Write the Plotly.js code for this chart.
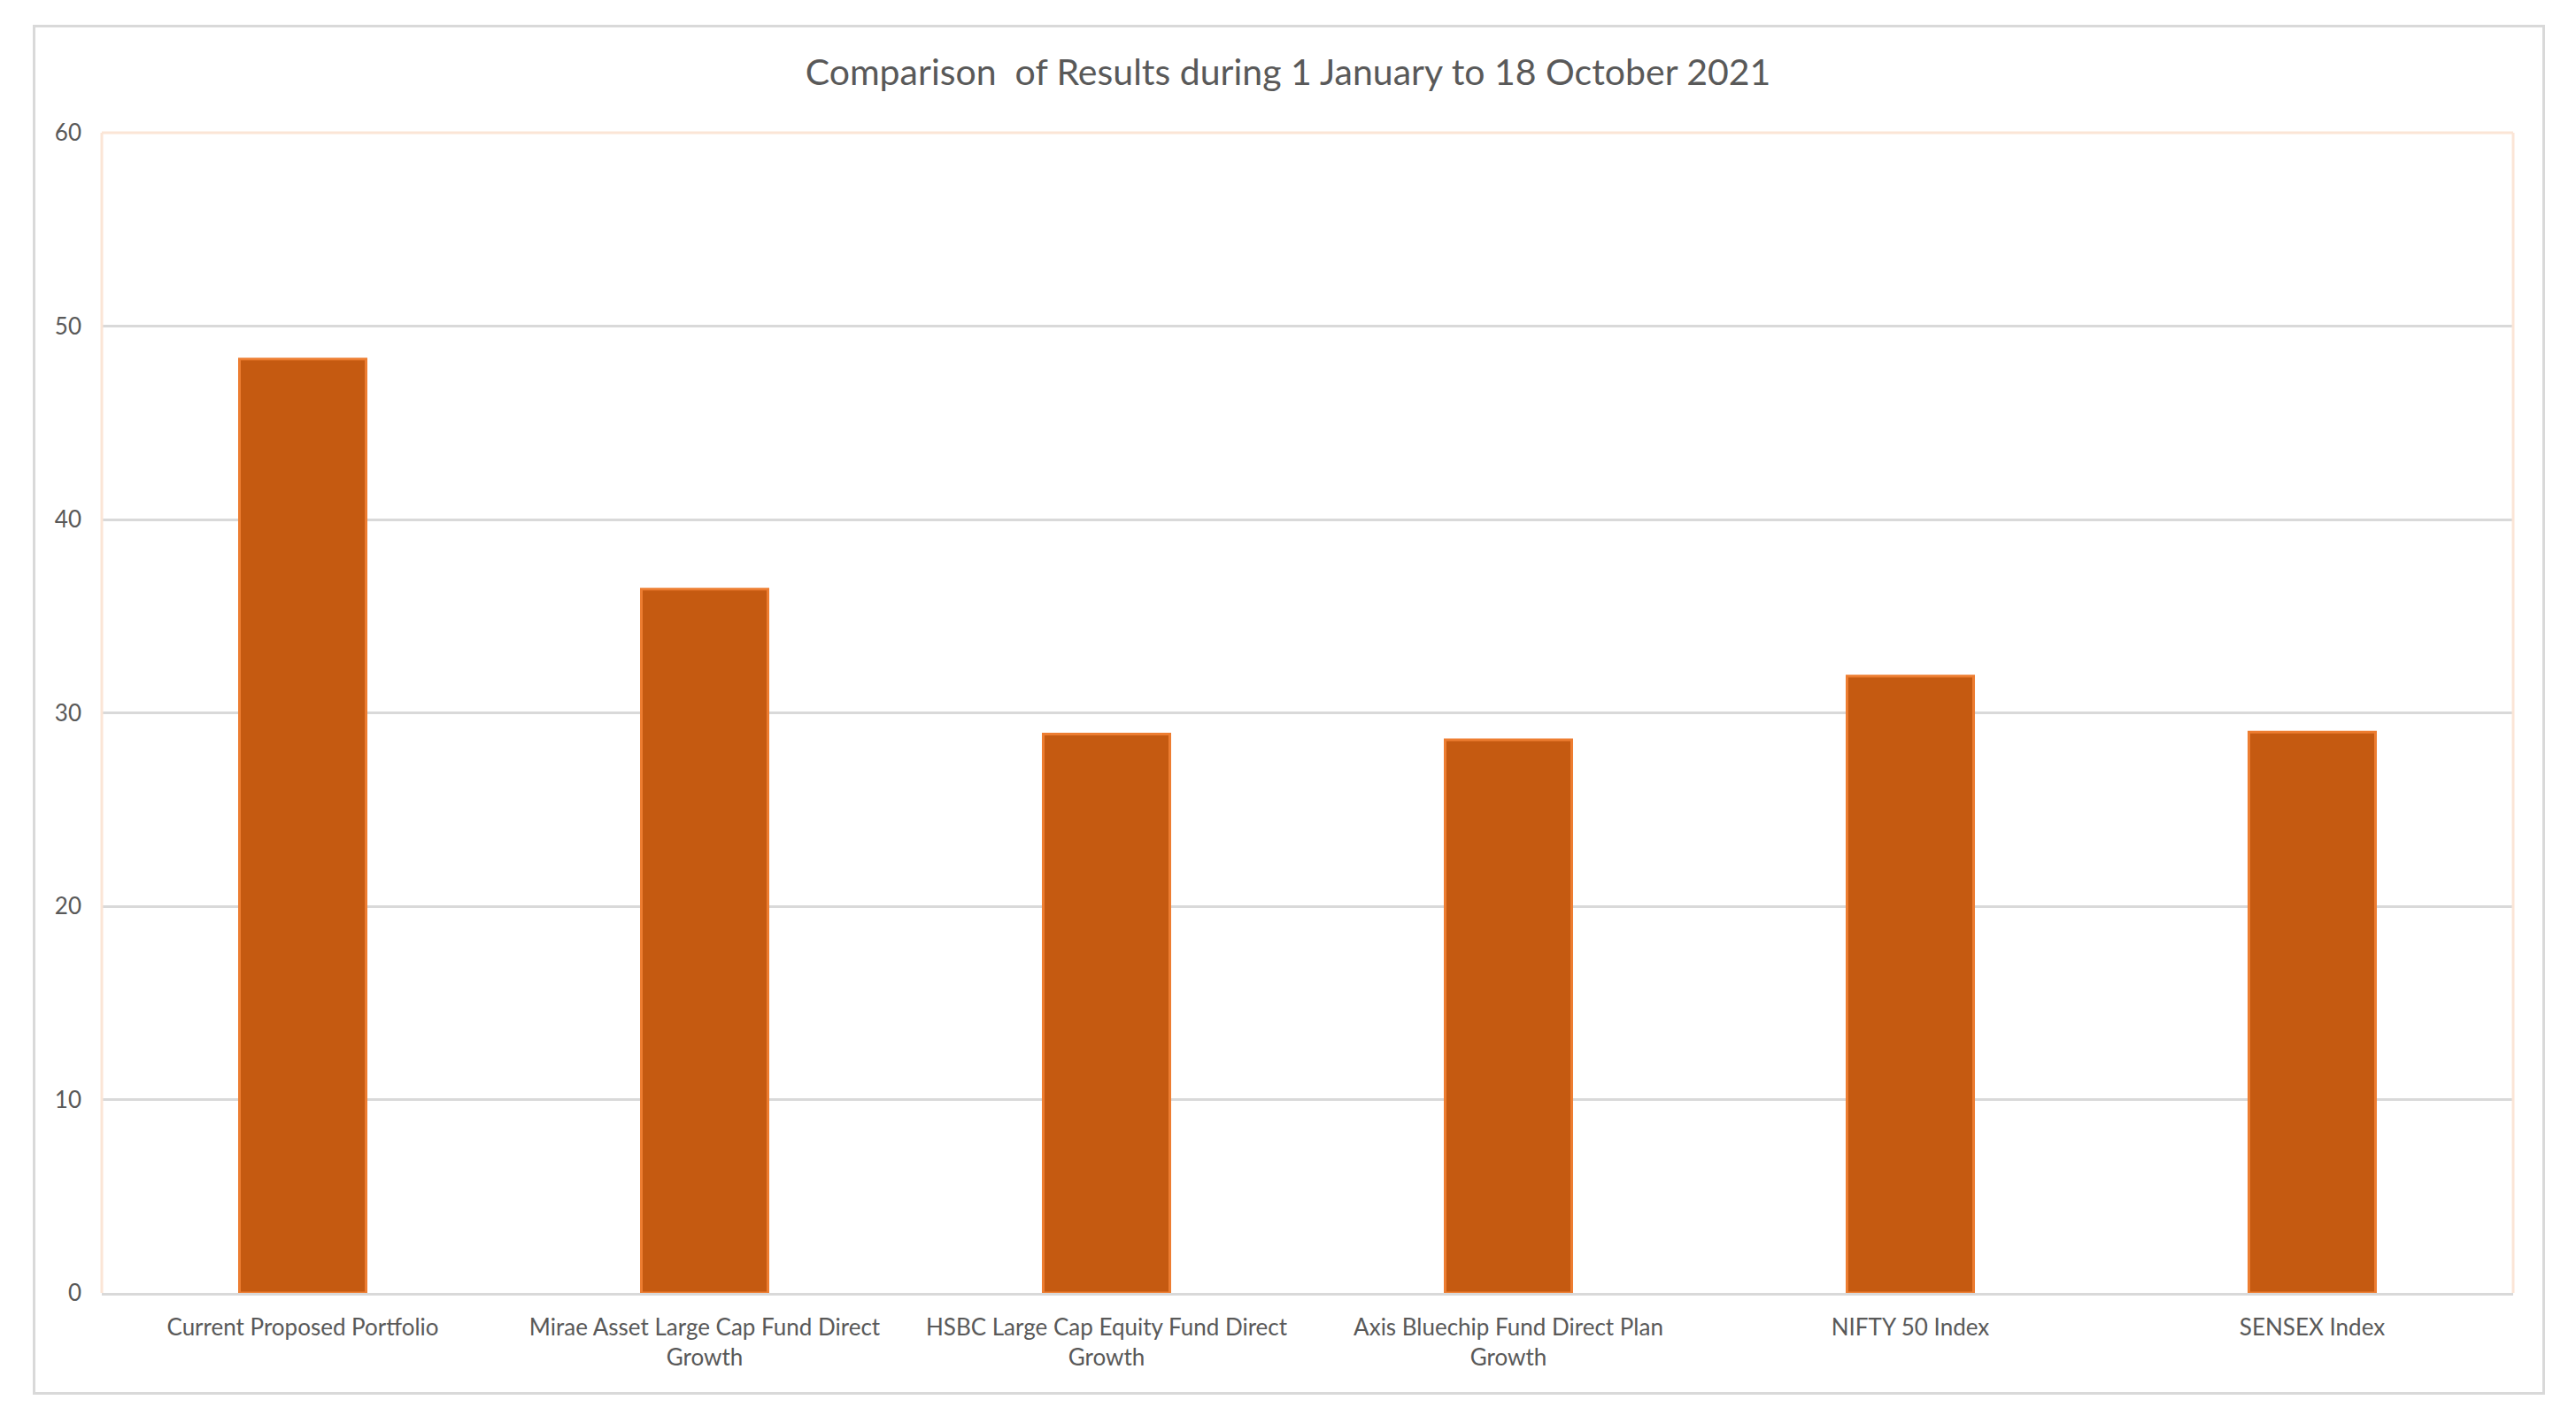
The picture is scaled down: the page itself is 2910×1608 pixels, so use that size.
<!DOCTYPE html>
<html>
<head>
<meta charset="utf-8">
<script src="https://cdn.plot.ly/plotly-3.0.1.min.js"></script>
<style>
  body { margin: 0; background: #fff; }
  #wrap { position: relative; width: 2910px; height: 1608px; }
  #chart { position: absolute; left: 0; top: 0; width: 2910px; height: 1608px; }
  #frame { position: absolute; left: 37px; top: 28px; width: 2832px; height: 1542px;
           border: 3px solid #d9d9d9; pointer-events: none; }
</style>
</head>
<body>
<div id="wrap">
  <div id="chart"></div>
  <div id="frame"></div>
</div>
<script>
const CATEGORIES = [
	'Current Proposed Portfolio',
	'Mirae Asset Large Cap Fund Direct<br>Growth',
	'HSBC Large Cap Equity Fund Direct<br>Growth',
	'Axis Bluechip Fund Direct Plan<br>Growth',
	'NIFTY 50 Index',
	'SENSEX Index'
];
const RETURNS    = [ 48.3, 36.4, 28.9, 28.6, 31.9, 29.0 ];
const Y_TICKS    = [ 0, 10, 20, 30, 40, 50, 60 ];

const BAR_FILL   = '#c55a11';
const BAR_EDGE   = '#ed7d31';
const GRID_COLOR = '#d9d9d9';
const PLOT_EDGE  = '#fbe5d6';
const TEXT_COLOR = '#595959';
const FONT       = 'Lato, "Open Sans", sans-serif';

const trace = {
	x     : CATEGORIES,
	y     : RETURNS,
	type  : 'bar',
	marker: { color: BAR_FILL, line: { color: BAR_EDGE, width: 3 } },
	hoverinfo: 'x+y'
};

// peach frame round the plot area on left, top and right; bottom is the grey axis line
const edge = ( x0, y0, x1, y1 ) => ( {
	type: 'line', xref: 'paper', yref: 'paper',
	x0: x0, y0: y0, x1: x1, y1: y1,
	line: { color: PLOT_EDGE, width: 3 }, layer: 'above'
} );

const layout = {
	width        : 2910,
	height       : 1608,
	margin       : { l: 115, r: 71, t: 150, b: 147, pad: 0 },
	paper_bgcolor: '#ffffff',
	plot_bgcolor : '#ffffff',
	showlegend   : false,
	bargap       : 0.685,
	font         : { family: FONT, color: TEXT_COLOR, size: 26 },
	title        : {
		text   : 'Comparison&nbsp; of Results during 1 January to 18 October 2021',
		font   : { family: FONT, size: 41, color: TEXT_COLOR },
		x      : 0.5, xref: 'container', xanchor: 'center',
		y      : 1 - 82 / 1608, yref: 'container', yanchor: 'middle'
	},
	xaxis: {
		showgrid : false,
		showline : true,
		linecolor: GRID_COLOR,
		linewidth: 3,
		ticks    : '',
		ticklabelstandoff: 14,
		tickfont : { family: FONT, size: 26, color: TEXT_COLOR },
		fixedrange: true
	},
	yaxis: {
		range    : [ 0, 60 ],
		tickmode : 'array',
		tickvals : Y_TICKS,
		ticktext : Y_TICKS.map( String ),
		showgrid : true,
		gridcolor: GRID_COLOR,
		gridwidth: 3,
		zeroline : false,
		showline : false,
		ticks    : '',
		ticklabelstandoff: 22,
		tickfont : { family: FONT, size: 26, color: TEXT_COLOR },
		fixedrange: true
	},
	shapes: [
		edge( 0, 0, 0, 1 ),
		edge( 0, 1, 1, 1 ),
		edge( 1, 0, 1, 1 )
	]
};

Plotly.newPlot( 'chart', [ trace ], layout, { displayModeBar: false, staticPlot: true } );
</script>
</body>
</html>
